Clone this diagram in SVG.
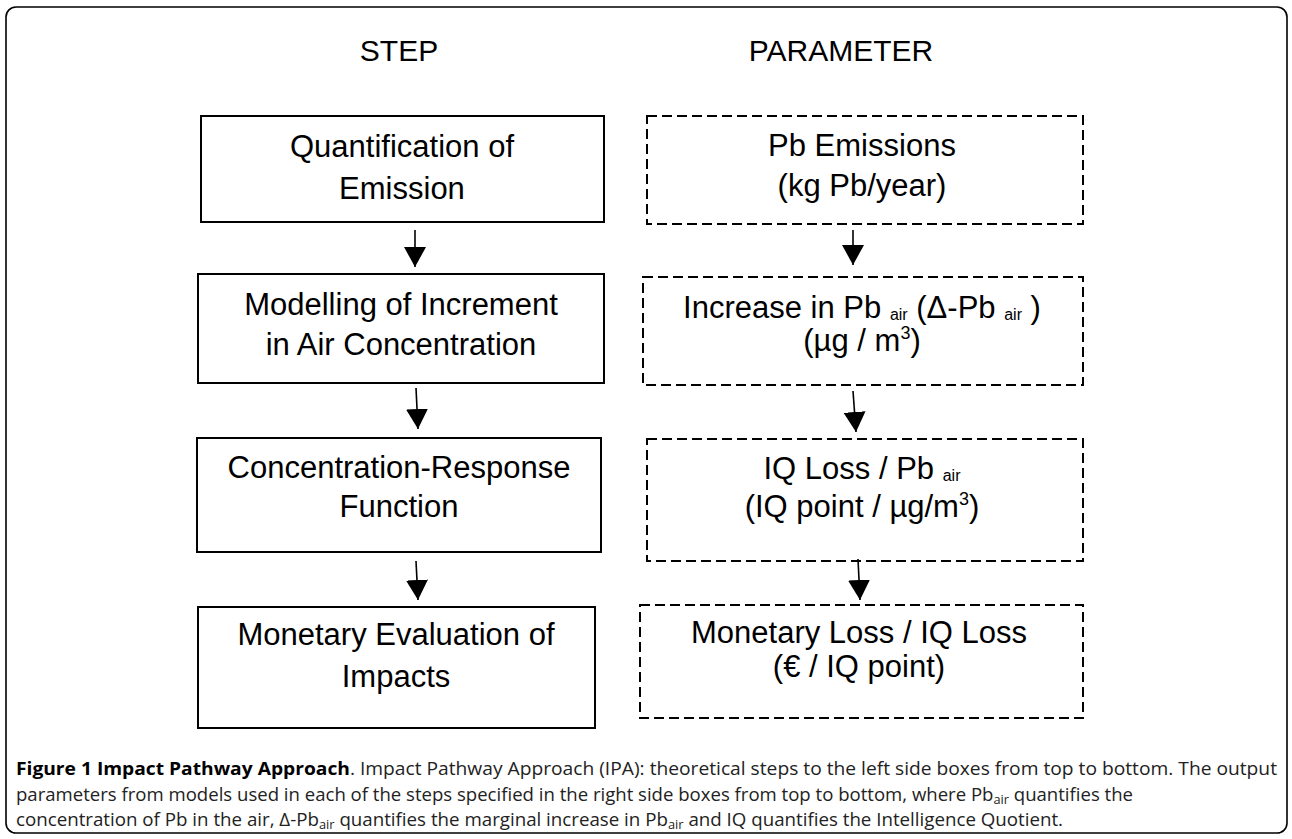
<svg xmlns="http://www.w3.org/2000/svg" width="1292" height="839" viewBox="0 0 1292 839">
<style>
.frame{fill:#fff;stroke:#000;stroke-width:1.6}
.box{fill:none;stroke:#000;stroke-width:2}
.dbox{fill:none;stroke:#000;stroke-width:2;stroke-dasharray:10 5}
.t{font-family:"Liberation Sans",Arial,sans-serif;font-size:31px;fill:#000;text-anchor:middle}
.h{font-family:"Liberation Sans",Arial,sans-serif;font-size:30px;fill:#000;text-anchor:middle}
.sub{font-size:16px}
.sup{font-size:18px}
.cap{font-family:"Open Sans","Liberation Sans",sans-serif;font-size:17.5px;fill:#222}
.b{font-weight:bold;fill:#000}
.csub{font-size:12px}
.arr{stroke:#000;stroke-width:1.6;fill:none;marker-end:url(#ah)}
</style>
<defs>
<marker id="ah" viewBox="0 0 20 22" refX="20" refY="11" markerWidth="20" markerHeight="22" markerUnits="userSpaceOnUse" orient="auto">
<path d="M0,0 L20,11 L0,22 z" fill="#000"/>
</marker>
</defs>
<rect class="frame" x="6" y="7" width="1281" height="826" rx="10"/>
<g id="headers">
<text class="h" x="399" y="61">STEP</text>
<text class="h" x="841" y="61">PARAMETER</text>
</g>
<g id="step1">
<rect class="box" x="201" y="116" width="403" height="106"/>
<text class="t" x="402" y="157">Quantification of</text>
<text class="t" x="402" y="199">Emission</text>
</g>
<g id="step2">
<rect class="box" x="198" y="274" width="406" height="109"/>
<text class="t" x="401" y="315">Modelling of Increment</text>
<text class="t" x="401" y="355">in Air Concentration</text>
</g>
<g id="step3">
<rect class="box" x="197" y="438" width="404" height="114"/>
<text class="t" x="399" y="478">Concentration-Response</text>
<text class="t" x="399" y="517">Function</text>
</g>
<g id="step4">
<rect class="box" x="198" y="607" width="397" height="121"/>
<text class="t" x="396" y="645">Monetary Evaluation of</text>
<text class="t" x="396" y="687">Impacts</text>
</g>
<g id="param1">
<rect class="dbox" x="647" y="116" width="436" height="108"/>
<text class="t" x="862" y="156">Pb Emissions</text>
<text class="t" x="862" y="196">(kg Pb/year)</text>
</g>
<g id="param2">
<rect class="dbox" x="643" y="277" width="440" height="108"/>
<text class="t" x="862" y="318">Increase in Pb <tspan class="sub" dy="2">air</tspan><tspan dy="-2"> (Δ-Pb </tspan><tspan class="sub" dy="2">air</tspan><tspan dy="-2"> )</tspan></text>
<text class="t" x="862" y="351">(µg / m<tspan class="sup" dy="-12">3</tspan><tspan dy="12">)</tspan></text>
</g>
<g id="param3">
<rect class="dbox" x="647" y="439" width="436" height="122"/>
<text class="t" x="862" y="479">IQ Loss / Pb <tspan class="sub" dy="2">air</tspan></text>
<text class="t" x="862" y="517">(IQ point / µg/m<tspan class="sup" dy="-12">3</tspan><tspan dy="12">)</tspan></text>
</g>
<g id="param4">
<rect class="dbox" x="640" y="605" width="443" height="113"/>
<text class="t" x="859" y="643">Monetary Loss / IQ Loss</text>
<text class="t" x="859" y="677">(€ / IQ point)</text>
</g>
<g id="connectors">
<line class="arr" x1="415" y1="230" x2="415" y2="267"/>
<line class="arr" x1="416" y1="388" x2="418" y2="429"/>
<line class="arr" x1="416" y1="561" x2="418" y2="600"/>
<line class="arr" x1="853" y1="230" x2="853" y2="265"/>
<line class="arr" x1="853" y1="391" x2="856" y2="432"/>
<line class="arr" x1="858" y1="559" x2="860" y2="600"/>
</g>
<g id="caption">
<text class="cap" x="16" y="775" textLength="1261" lengthAdjust="spacingAndGlyphs"><tspan class="b">Figure 1 Impact Pathway Approach</tspan>. Impact Pathway Approach (IPA): theoretical steps to the left side boxes from top to bottom. The output</text>
<text class="cap" x="16" y="801" textLength="1117" lengthAdjust="spacingAndGlyphs">parameters from models used in each of the steps specified in the right side boxes from top to bottom, where Pb<tspan class="csub" dy="3">air</tspan><tspan dy="-3"> quantifies the</tspan></text>
<text class="cap" x="16" y="826" textLength="1047" lengthAdjust="spacingAndGlyphs">concentration of Pb in the air, Δ-Pb<tspan class="csub" dy="3">air</tspan><tspan dy="-3"> quantifies the marginal increase in Pb</tspan><tspan class="csub" dy="3">air</tspan><tspan dy="-3"> and IQ quantifies the Intelligence Quotient.</tspan></text>
</g>
</svg>
